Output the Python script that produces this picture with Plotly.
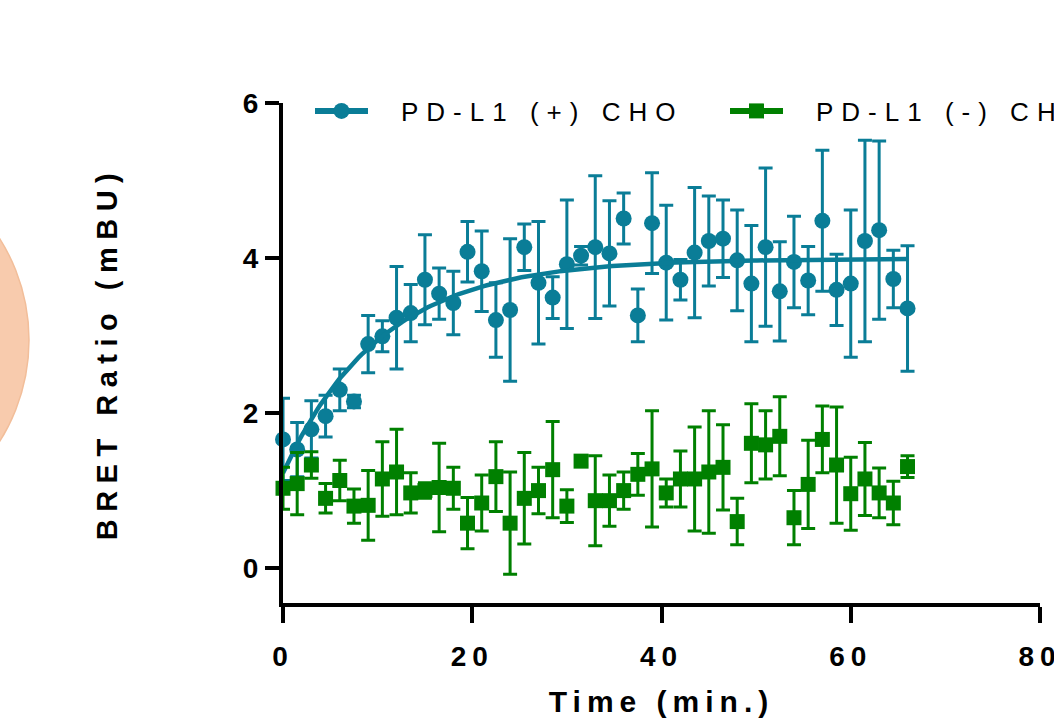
import numpy as np
import plotly.graph_objects as go

# ---- data ----
time_min = [0, 1.5, 3, 4.5, 6, 7.5, 9, 10.5, 12, 13.5,
            15, 16.5, 18, 19.5, 21, 22.5, 24, 25.5, 27, 28.5,
            30, 31.5, 33, 34.5, 36, 37.5, 39, 40.5, 42, 43.5,
            45, 46.5, 48, 49.5, 51, 52.5, 54, 55.5, 57, 58.5,
            60, 61.5, 63, 64.5, 66]

pos_mean = [1.66, 1.53, 1.79, 1.96, 2.30, 2.15, 2.89, 2.99, 3.23, 3.29,
            3.72, 3.54, 3.42, 4.08, 3.83, 3.20, 3.33, 4.14, 3.68, 3.49,
            3.92, 4.03, 4.14, 4.06, 4.51, 3.26, 4.45, 3.94, 3.72, 4.07,
            4.22, 4.25, 3.97, 3.67, 4.14, 3.57, 3.95, 3.71, 4.48, 3.59,
            3.67, 4.22, 4.36, 3.73, 3.35]
pos_err = [0.53, 0.35, 0.37, 0.27, 0.27, 0.08, 0.37, 0.20, 0.66, 0.37,
           0.58, 0.33, 0.41, 0.39, 0.52, 0.48, 0.92, 0.30, 0.79, 0.27,
           0.83, 0.12, 0.92, 0.68, 0.33, 0.34, 0.65, 0.74, 0.26, 0.84,
           0.58, 0.50, 0.65, 0.75, 1.02, 0.64, 0.59, 0.44, 0.91, 0.46,
           0.95, 1.30, 1.15, 0.37, 0.81]

neg_mean = [1.03, 1.09, 1.33, 0.90, 1.13, 0.80, 0.81, 1.15, 1.24, 0.97,
            1.00, 1.04, 1.03, 0.58, 0.84, 1.18, 0.58, 0.90, 1.00, 1.27,
            0.80, 1.38, 0.87, 0.87, 1.00, 1.21, 1.28, 0.97, 1.15, 1.15,
            1.24, 1.30, 0.60, 1.61, 1.59, 1.70, 0.65, 1.08, 1.66, 1.33,
            0.96, 1.15, 0.97, 0.84, 1.31]
neg_err = [0.27, 0.40, 0.17, 0.19, 0.26, 0.22, 0.45, 0.48, 0.55, 0.26,
           0.10, 0.57, 0.27, 0.33, 0.36, 0.45, 0.66, 0.59, 0.30, 0.62,
           0.21, 0.05, 0.58, 0.33, 0.24, 0.27, 0.75, 0.18, 0.36, 0.67,
           0.79, 0.55, 0.30, 0.51, 0.44, 0.51, 0.35, 0.57, 0.43, 0.75,
           0.47, 0.47, 0.32, 0.28, 0.14]

x_ticks = [0, 20, 40, 60, 80]
y_ticks = [0, 2, 4, 6]
series_names = ["PD-L1 (+) CHO", "PD-L1 (-) CHO"]

BLUE = "#0A7D97"
GREEN = "#008000"
FONT = "Liberation Sans, Arial, sans-serif"

# ---- one-phase association fit to the (+) data ----
t = np.array(time_min, dtype=float)
yv = np.array(pos_mean, dtype=float)
best = None
for k in np.linspace(0.02, 0.40, 761):
    A = np.column_stack([np.ones_like(t), 1 - np.exp(-k * t)])
    coef, *_ = np.linalg.lstsq(A, yv, rcond=None)
    sse = float(((A @ coef - yv) ** 2).sum())
    if best is None or sse < best[0]:
        best = (sse, k, coef)
_, k_fit, (y0_fit, span_fit) = best
t_fit = np.linspace(0, max(time_min), 200)
y_fit = y0_fit + span_fit * (1 - np.exp(-k_fit * t_fit))

fig = go.Figure()

fig.add_trace(go.Scatter(
    x=time_min, y=pos_mean, mode="markers", showlegend=False, cliponaxis=False,
    marker=dict(symbol="circle", size=16, color=BLUE),
    error_y=dict(type="data", array=pos_err, visible=True, color=BLUE,
                 thickness=3, width=7),
))
fig.add_trace(go.Scatter(
    x=t_fit, y=y_fit, mode="lines", showlegend=False, cliponaxis=False,
    line=dict(color=BLUE, width=4.5),
))
fig.add_trace(go.Scatter(
    x=time_min, y=neg_mean, mode="markers", showlegend=False, cliponaxis=False,
    marker=dict(symbol="square", size=15, color=GREEN),
    error_y=dict(type="data", array=neg_err, visible=True, color=GREEN,
                 thickness=3, width=7),
))
# legend entries (line + marker samples, as in the original)
fig.add_trace(go.Scatter(
    x=[None], y=[None], mode="lines+markers", name=series_names[0],
    line=dict(color=BLUE, width=6), marker=dict(symbol="circle", size=16, color=BLUE),
    legendwidth=347,
))
fig.add_trace(go.Scatter(
    x=[None], y=[None], mode="lines+markers", name=series_names[1],
    line=dict(color=GREEN, width=6), marker=dict(symbol="square", size=15, color=GREEN),
    legendwidth=150,
))

axis_common = dict(
    showline=True, linewidth=4, linecolor="black",
    ticks="outside", tickwidth=3.5, tickcolor="black",
    showgrid=False, zeroline=False, automargin=False,
    ticklabeloverflow="allow",
    tickfont=dict(family=FONT, size=28, color="black", weight="bold"),
)

fig.update_layout(
    width=1054, height=718,
    margin=dict(l=283, r=14, t=103, b=115),
    paper_bgcolor="white", plot_bgcolor="white",
    font=dict(family=FONT, color="black"),
    xaxis=dict(range=[0, 80], tickmode="array", tickvals=x_ticks, ticklen=16,
               ticklabelstandoff=9,
               title=dict(text="Time (min.)", standoff=27,
                          font=dict(family=FONT, size=30, color="black", weight="bold")),
               **axis_common),
    yaxis=dict(range=[-0.45, 6], tickmode="array", tickvals=y_ticks, ticklen=14,
               ticklabelstandoff=1,
               title=dict(text="BRET Ratio (mBU)", standoff=118,
                          font=dict(family=FONT, size=29, color="black", weight="bold")),
               **axis_common),
    showlegend=True,
    legend=dict(x=(310 - 283) / 757, xanchor="left", y=(603 - 111) / 500, yanchor="middle",
                orientation="h", itemwidth=53, bgcolor="rgba(0,0,0,0)", borderwidth=0,
                font=dict(family=FONT, size=26, color="black")),
    shapes=[dict(type="circle", xref="paper", yref="paper", layer="below",
                 x0=(-351 - 283) / 757, x1=(29 - 283) / 757,
                 y0=(603 - 530) / 500, y1=(603 - 150) / 500,
                 fillcolor="#F8CBAD", line=dict(color="#F2BE9A", width=1.5))],
)

# letter tracking as in the original export (applied to the rendered text)
post = """
var gd = document.getElementById('{plot_id}');
function track(){
  gd.querySelectorAll('text.legendtext').forEach(function(e){
    e.style.letterSpacing = '8px'; e.style.transform = 'translateX(28px)';
  });
  gd.querySelectorAll('g.legend g.scrollbox').forEach(function(e){
    e.removeAttribute('clip-path'); e.style.clipPath = 'none';
  });
  gd.querySelectorAll('text.xtitle').forEach(function(e){ e.style.letterSpacing = '6px'; });
  gd.querySelectorAll('text.ytitle').forEach(function(e){ e.style.letterSpacing = '7.5px'; });
  gd.querySelectorAll('.xtick text').forEach(function(e){ e.style.letterSpacing = '6px'; });
}
track();
setTimeout(track, 30); setTimeout(track, 200); setTimeout(track, 600);
if (gd.on) { gd.on('plotly_afterplot', track); }
"""

fig.write_html("out.html", post_script=post)
